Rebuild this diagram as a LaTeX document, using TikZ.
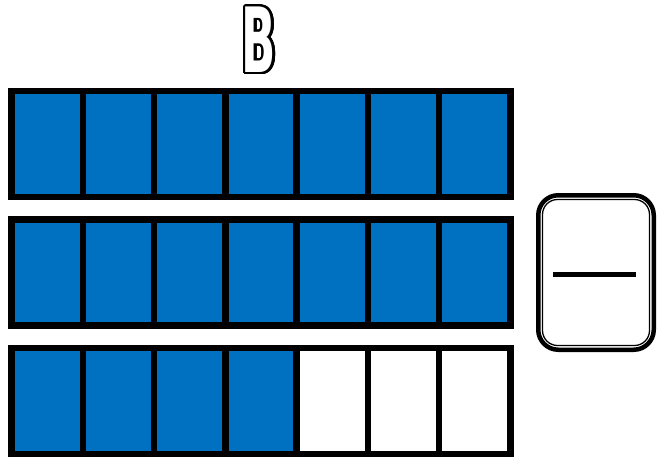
\documentclass[tikz,border=0pt]{standalone}
\usepackage{fontspec}
\usepackage{contour}
\setmainfont{DejaVu Sans}
\contourlength{2.2pt}
\contournumber{32}
\definecolor{barblue}{RGB}{0,112,192}
\begin{document}
\begin{tikzpicture}[x=1pt,y=-1pt,
  cellbox/.style={line width=6.5pt, line join=miter},
  outerbox/.style={line width=4.5pt, rounded corners=20pt},
  innerbox/.style={line width=1.3pt, rounded corners=15pt},
  answerline/.style={line width=5pt}]
\useasboundingbox (0,0) rectangle (663,458);
\def\cw{71.2857}
\foreach \top/\n in {91/7,219.5/7,348/4}{
  \fill[barblue] (11.5,\top) rectangle ({11.5+\n*\cw},{\top+106});
  \foreach \i in {0,...,6}{
    \draw[cellbox] ({11.5+\i*\cw},\top) rectangle ({11.5+(\i+1)*\cw},{\top+106});
  }
}
\node (label) at (259,41) {\fontsize{90}{90}\selectfont\bfseries{\color{white}\contour{black}{\scalebox{0.5}[1]{B}}}};
\draw[outerbox] (538.25,195.25) rectangle (653.75,349.75);
\draw[innerbox] (542.5,199.5) rectangle (649.5,345.5);
\coordinate (lineL) at (553,274);
\coordinate (lineR) at (636,274);
\draw[answerline] (lineL) -- (lineR);
\end{tikzpicture}
\end{document}
